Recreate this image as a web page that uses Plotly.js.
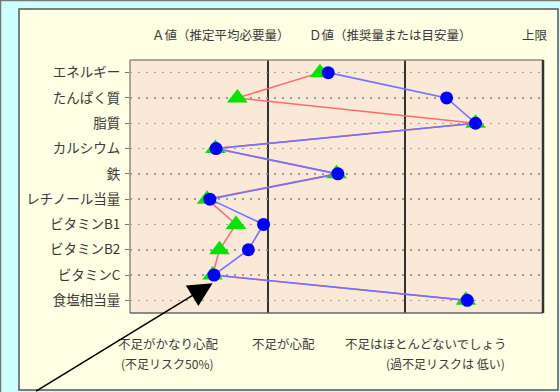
<!DOCTYPE html>
<html>
<head>
<meta charset="utf-8">
<script src="https://cdn.plot.ly/plotly-3.0.1.min.js"></script>
<style>html,body{margin:0;padding:0;background:#ccffff;}#chart{width:560px;height:392px;}</style>
</head>
<body>
<div id="chart"></div>
<script>
var categories = ['エネルギー','たんぱく質','脂質','カルシウム','鉄','レチノール当量','ビタミンB1','ビタミンB2','ビタミンC','食塩相当量'];
var greenVals = [1.38, 0.78, 2.51, 0.62, 1.50, 0.56, 0.77, 0.65, 0.60, 2.44];
var blueVals  = [1.44, 2.30, 2.51, 0.625, 1.51, 0.58, 0.97, 0.86, 0.61, 2.45];
var topLabels = ['Ａ値（推定平均必要量）', 'Ｄ値（推奨量または目安量）', '上限'];
var bottomLabels = ['不足がかなり心配', '不足が心配', '不足はほとんどないでしょう'];
var bottomSubLabels = ['(不足リスク50%)', '(過不足リスクは 低い)'];

var FONT = '"Noto Sans CJK JP", "Noto Sans", sans-serif';
var TXT = '#3a3a3a';

var traces = [
  {
    type: 'scatter', mode: 'lines+markers', x: greenVals, y: categories,
    line: {color: '#ff6b6b', width: 1.5},
    marker: {symbol: 'triangle-up', size: 18, color: '#00e600'},
    cliponaxis: false, hoverinfo: 'none'
  },
  {
    type: 'scatter', mode: 'lines+markers', x: blueVals, y: categories,
    line: {color: '#7272ff', width: 1.6},
    marker: {symbol: 'circle', size: 13, color: '#0000ff'},
    cliponaxis: false, hoverinfo: 'none'
  }
];

var ann = [];
var topX = [0.220, 0.630, 0.980];
topLabels.forEach(function(t, i) {
  ann.push({xref: 'paper', yref: 'paper', x: topX[i], y: 1.099, text: t, showarrow: false,
    xanchor: 'center', yanchor: 'middle', font: {family: FONT, size: 12.5, color: TXT}});
});
var botX = [0.094, 0.372, 0.717];
bottomLabels.forEach(function(t, i) {
  ann.push({xref: 'paper', yref: 'paper', x: botX[i], y: -0.119, text: t, showarrow: false,
    xanchor: 'center', yanchor: 'middle', font: {family: FONT, size: 12.5, color: TXT}});
});
var subX = [0.092, 0.763];
bottomSubLabels.forEach(function(t, i) {
  ann.push({xref: 'paper', yref: 'paper', x: subX[i], y: -0.198, text: t, showarrow: false,
    xanchor: 'center', yanchor: 'middle', font: {family: FONT, size: 12, color: TXT}});
});
// arrow pointing to ビタミンC
ann.push({xref: 'x', yref: 'y', x: 0.60, y: 8.32, text: '', showarrow: true,
  ax: -178, ay: 115, arrowhead: 2, arrowsize: 3.0, arrowwidth: 1.6, arrowcolor: '#000', standoff: 0});

function px2x(p) { return (p - 130) / 413; }
function py2y(p) { return (313 - p) / 253; }

var shapes = [
  {type: 'rect', xref: 'paper', yref: 'paper', layer: 'below',
   x0: px2x(0.5), x1: px2x(570), y0: py2y(400), y1: py2y(0.5),
   fillcolor: '#ccffff', line: {color: '#777', width: 1.5}},
  {type: 'rect', xref: 'paper', yref: 'paper', layer: 'below',
   x0: px2x(19), x1: px2x(558), y0: py2y(390), y1: py2y(9),
   fillcolor: '#ffffe3', line: {color: '#555', width: 1.5}},
  {type: 'rect', xref: 'paper', yref: 'paper', layer: 'below',
   x0: 0, x1: 1, y0: 0, y1: 1, fillcolor: '#fbe9d8', line: {width: 0}},
  {type: 'line', xref: 'paper', yref: 'paper', layer: 'above', x0: 0, x1: 0, y0: 0, y1: 1,
   line: {color: '#8c8c80', width: 1.5}},
  {type: 'line', xref: 'paper', yref: 'paper', layer: 'above', x0: 0, x1: 1, y0: 1, y1: 1,
   line: {color: '#8c8c80', width: 1.5}},
  {type: 'line', xref: 'paper', yref: 'paper', layer: 'above', x0: 0, x1: 1, y0: 0, y1: 0,
   line: {color: '#666', width: 1.5}},
  {type: 'line', xref: 'paper', yref: 'paper', layer: 'above', x0: 1, x1: 1, y0: 0, y1: 1,
   line: {color: '#333', width: 2.5}}
];

var layout = {
  width: 560, height: 392,
  margin: {l: 130, r: 17, t: 60, b: 79},
  paper_bgcolor: '#ccffff', plot_bgcolor: 'rgba(0,0,0,0)',
  showlegend: false,
  font: {family: FONT, color: TXT},
  xaxis: {range: [0, 3], tickvals: [1, 2], showticklabels: false, ticks: '',
          showgrid: true, gridcolor: '#333', gridwidth: 2.2, zeroline: false, showline: false, fixedrange: true},
  yaxis: {type: 'category', range: [9.5, -0.5], showgrid: true, gridcolor: '#9a9a9a', griddash: '2px,6px', gridwidth: 1.5,
          ticks: 'outside', ticklen: 4, tickcolor: '#777', tickfont: {family: FONT, size: 13.5, color: TXT},
          zeroline: false, showline: false, fixedrange: true, ticklabelstandoff: 2},
  shapes: shapes,
  annotations: ann
};

Plotly.newPlot('chart', traces, layout, {staticPlot: true});
</script>
</body>
</html>
